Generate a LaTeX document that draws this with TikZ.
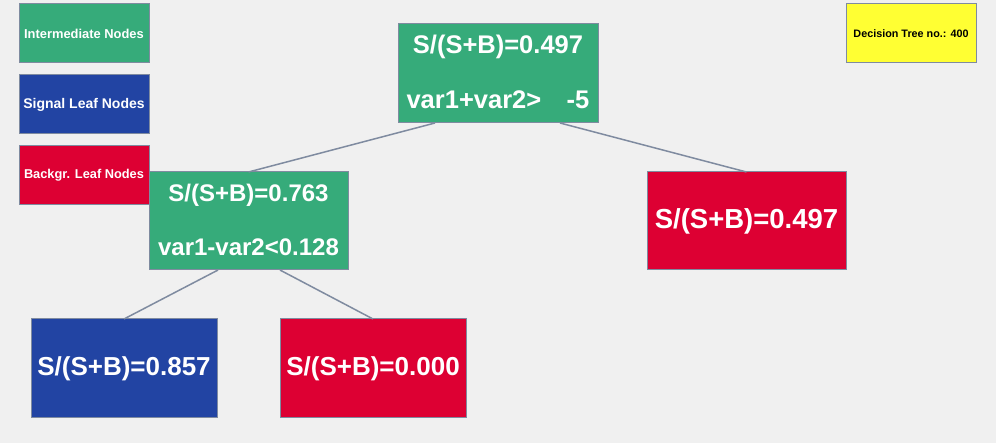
\documentclass[tikz,border=0pt]{standalone}
\usepackage{fontspec}
\setmainfont{Liberation Sans}
\usetikzlibrary{calc}
\definecolor{bgc}{HTML}{F0F0F0}
\definecolor{gnode}{HTML}{36AB7A}
\definecolor{bnode}{HTML}{2244A3}
\definecolor{rnode}{HTML}{DD0033}
\definecolor{ynode}{HTML}{FFFF33}
\definecolor{edgec}{HTML}{7F8BA0}
\tikzset{
  box/.style={draw=edgec, line width=1pt, inner sep=0pt, outer sep=0pt},
  legbox/.style={box, minimum width=130pt, minimum height=59pt, text=white, font=\bfseries\fontsize{12.9}{14}\selectfont},
  treebox/.style={box, minimum width=200pt, minimum height=99pt},
  leafbox/.style={box, minimum width=186pt, minimum height=99pt, text=white, font=\bfseries\fontsize{26}{30}\selectfont},
  rtxt/.style={text=white, font=\bfseries\fontsize{25.5}{28}\selectfont, inner sep=0pt},
  ctxt/.style={text=white, font=\bfseries\fontsize{24}{28}\selectfont, inner sep=0pt},
  conn/.style={draw=edgec, line width=1.5pt},
}
\begin{document}
\begin{tikzpicture}[x=1pt,y=-1pt]
\fill[bgc] (0,0) rectangle (996,443);
\useasboundingbox (0,0) rectangle (996,443);
% legend
\node[legbox, fill=gnode] (legI) at (84,33.5) {Intermediate Nodes};
\node[legbox, fill=bnode, font=\bfseries\fontsize{14}{16}\selectfont] (legS) at (84,104.5) {Signal Leaf Nodes};
\node[legbox, fill=rnode, font=\bfseries\fontsize{12.8}{14}\selectfont] (legB) at (84,175.5) {Backgr. Leaf Nodes};
% title box
\node[box, fill=ynode, minimum width=130pt, minimum height=59pt, font=\bfseries\fontsize{10.8}{12}\selectfont] (title) at (911,33.5) {Decision Tree no.: 400};
% tree boxes
\node[treebox, fill=gnode] (root) at (498,73.5) {};
\node[treebox, fill=gnode, minimum width=199pt, minimum height=98pt] (lchild) at (248.5,221) {};
\node[treebox, fill=rnode, minimum width=199pt, minimum height=98pt] (rleaf) at (746.5,221) {};
\node[leafbox, fill=bnode] (ll) at (124,368.5) {S/(S+B)=0.857};
\node[leafbox, fill=rnode] (lr) at (373,368.5) {S/(S+B)=0.000};
\node[rtxt, font=\bfseries\fontsize{27.5}{30}\selectfont] (rleaftxt) at (746.5,221) {S/(S+B)=0.497};
\node[rtxt] (rootA) at (498,47) {S/(S+B)=0.497};
\node[rtxt] (rootB) at (498,100) {var1+var2>\ \ \ \,-5};
\node[ctxt] (lcA) at (248.5,195) {S/(S+B)=0.763};
\node[ctxt] (lcB) at (248.5,247) {var1-var2<0.128};
% connectors
\draw[conn] ($(root.south west)!0.185!(root.south east)$) -- (lchild.north);
\draw[conn] ($(root.south west)!0.81!(root.south east)$) -- (rleaf.north);
\draw[conn] ($(lchild.south west)!0.347!(lchild.south east)$) -- (ll.north);
\draw[conn] ($(lchild.south west)!0.658!(lchild.south east)$) -- (lr.north);
\end{tikzpicture}
\end{document}
